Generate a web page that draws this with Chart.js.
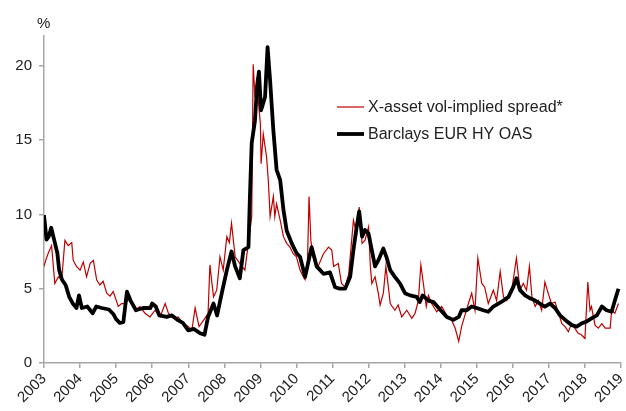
<!DOCTYPE html>
<html>
<head>
<meta charset="utf-8">
<script src="https://cdn.jsdelivr.net/npm/chart.js@4.4.1/dist/chart.umd.min.js"></script>
<style>
  html, body { margin: 0; padding: 0; background: #fff; }
  #wrap { width: 626px; height: 411px; }
</style>
</head>
<body>
<div id="wrap"><canvas id="spreadChart" width="626" height="411"></canvas></div>
<script>
// x-asset vol-implied spread (red, thin)
const impliedYears = [
  2003.00, 2003.06, 2003.12, 2003.21, 2003.30, 2003.40, 2003.49, 2003.58, 2003.67, 2003.77, 2003.81, 2003.90,
  2004.00, 2004.09, 2004.18, 2004.28, 2004.37, 2004.46, 2004.55, 2004.64, 2004.74, 2004.83, 2004.92,
  2005.06, 2005.15, 2005.25, 2005.38, 2005.52, 2005.66, 2005.80, 2005.94,
  2006.08, 2006.22, 2006.36, 2006.45, 2006.59, 2006.72, 2006.86,
  2007.00, 2007.10, 2007.19, 2007.30, 2007.46, 2007.55, 2007.60, 2007.70, 2007.79, 2007.88, 2007.97,
  2008.07, 2008.14, 2008.20, 2008.30, 2008.43, 2008.57, 2008.67, 2008.76, 2008.80, 2008.85, 2008.90, 2008.94,
  2009.00, 2009.02, 2009.08, 2009.17, 2009.22, 2009.27, 2009.36, 2009.40, 2009.45, 2009.55, 2009.64, 2009.73, 2009.82, 2009.91,
  2010.00, 2010.10, 2010.19, 2010.24, 2010.30, 2010.35, 2010.40, 2010.48, 2010.60, 2010.75, 2010.89, 2010.98,
  2011.03, 2011.16, 2011.25, 2011.35, 2011.45, 2011.58, 2011.67, 2011.74, 2011.82, 2011.90,
  2012.00, 2012.05, 2012.09, 2012.18, 2012.27, 2012.32, 2012.41, 2012.48, 2012.55, 2012.60, 2012.73, 2012.82, 2012.92,
  2013.06, 2013.20, 2013.29, 2013.38, 2013.45, 2013.52, 2013.60, 2013.66, 2013.75, 2013.89,
  2014.03, 2014.17, 2014.30, 2014.40, 2014.50, 2014.58, 2014.67, 2014.77, 2014.86, 2014.95,
  2015.03, 2015.14, 2015.22, 2015.32, 2015.46, 2015.55, 2015.65, 2015.74, 2015.83, 2015.97,
  2016.10, 2016.20, 2016.29, 2016.38, 2016.46, 2016.53, 2016.62, 2016.71, 2016.80, 2016.89, 2016.98,
  2017.07, 2017.17, 2017.27, 2017.36, 2017.45, 2017.54, 2017.63, 2017.72, 2017.81, 2017.90,
  2018.00, 2018.08, 2018.14, 2018.18, 2018.28, 2018.37, 2018.47, 2018.56, 2018.70, 2018.74, 2018.83, 2018.93
];
const impliedSpread = [
  6.5, 7.0, 7.4, 7.9, 5.35, 5.8, 5.6, 8.25, 7.9, 8.1, 6.9, 6.5,
  6.25, 6.8, 5.8, 6.7, 6.9, 5.6, 5.25, 5.5, 4.7, 4.5, 4.8,
  3.8, 4.0, 4.0, 4.35, 3.55, 3.8, 3.35, 3.1,
  3.55, 3.1, 4.0, 3.35, 3.0, 3.1, 2.65,
  2.45, 2.2, 3.7, 2.45, 3.0, 3.35, 6.6, 4.45, 4.9, 7.15, 6.25,
  8.5, 8.1, 9.4, 7.15, 6.7, 6.25, 8.1, 9.85, 20.1, 17.9, 19.2, 17.7,
  16.1, 13.4, 15.4, 13.9, 12.3, 9.85, 11.2, 9.85, 10.7, 9.6, 8.5, 8.05, 7.8, 7.35,
  7.15, 6.25, 5.8, 5.6, 6.25, 11.2, 8.25, 6.9, 6.5, 7.35, 7.8, 7.6,
  6.5, 6.7, 5.35, 5.1, 6.0, 9.6, 8.7, 10.5, 8.05, 8.25,
  9.15, 6.5, 5.35, 5.8, 4.7, 3.9, 4.7, 6.5, 5.1, 4.0, 3.55, 3.9, 3.1,
  3.55, 3.0, 3.35, 4.2, 6.6, 5.35, 3.8, 4.55, 4.0, 3.45,
  3.8, 3.2, 2.9, 2.35, 1.45, 2.45, 3.2, 4.0, 4.7, 3.55,
  7.05, 5.35, 5.1, 4.0, 4.9, 4.2, 6.15, 4.45, 4.2, 4.9,
  7.05, 4.9, 5.35, 4.9, 6.5, 4.45, 3.8, 4.2, 3.55, 5.45, 4.7,
  4.0, 4.1, 3.35, 2.65, 2.45, 2.1, 2.65, 2.35, 2.0, 1.9,
  1.65, 5.45, 3.55, 3.8, 2.55, 2.35, 2.65, 2.35, 2.35, 3.55, 3.35, 4.0
];

// Barclays EUR HY OAS (black, thick)
const oasYears = [
  2003.00, 2003.07, 2003.13, 2003.20, 2003.28, 2003.37, 2003.42, 2003.50, 2003.60, 2003.70, 2003.80, 2003.90, 2003.97,
  2004.05, 2004.20, 2004.35, 2004.45, 2004.60, 2004.80, 2004.92,
  2005.00, 2005.10, 2005.20, 2005.30, 2005.40, 2005.55, 2005.75, 2005.95,
  2006.00, 2006.10, 2006.20, 2006.40, 2006.55, 2006.70, 2006.85,
  2007.00, 2007.15, 2007.33, 2007.45, 2007.55, 2007.70, 2007.80, 2007.93,
  2008.07, 2008.20, 2008.30, 2008.43, 2008.53, 2008.67, 2008.71, 2008.76, 2008.85, 2008.90, 2008.96,
  2009.02, 2009.13, 2009.20, 2009.27, 2009.36, 2009.45, 2009.55, 2009.64, 2009.73, 2009.87,
  2010.00, 2010.10, 2010.24, 2010.42, 2010.56, 2010.75, 2010.93,
  2011.07, 2011.20, 2011.35, 2011.49, 2011.58, 2011.67, 2011.74, 2011.82, 2011.90,
  2012.00, 2012.09, 2012.18, 2012.27, 2012.41, 2012.50, 2012.60, 2012.73, 2012.87,
  2013.01, 2013.15, 2013.33, 2013.42, 2013.50, 2013.66, 2013.80,
  2014.00, 2014.17, 2014.35, 2014.50, 2014.58, 2014.72, 2014.86,
  2015.00, 2015.18, 2015.32, 2015.46, 2015.60, 2015.74, 2015.88,
  2016.01, 2016.10, 2016.20, 2016.34, 2016.48, 2016.62, 2016.75, 2016.89,
  2017.03, 2017.17, 2017.31, 2017.50, 2017.64, 2017.77, 2017.90,
  2018.05, 2018.18, 2018.33, 2018.47, 2018.60, 2018.74, 2018.83, 2018.93
];
const oasSpread = [
  9.95, 8.3, 8.5, 9.1, 8.3, 7.4, 6.25, 5.6, 5.25, 4.45, 4.0, 3.7, 4.55,
  3.7, 3.8, 3.35, 3.8, 3.7, 3.6, 3.3,
  2.95, 2.7, 2.75, 4.8, 4.2, 3.55, 3.7, 3.7,
  4.0, 3.8, 3.2, 3.1, 3.2, 2.9, 2.7,
  2.2, 2.3, 2.0, 1.9, 3.1, 4.0, 3.2, 4.7,
  6.25, 7.5, 6.5, 5.7, 7.6, 7.8, 11.2, 14.8, 16.3, 18.35, 19.6,
  17.0, 17.9, 21.25, 19.0, 15.65, 13.0, 12.3, 10.3, 8.9, 8.05,
  7.4, 7.15, 5.8, 7.8, 6.5, 6.0, 6.1,
  5.1, 5.0, 5.0, 5.8, 7.6, 9.15, 10.2, 8.5, 8.95,
  8.7, 7.6, 6.5, 6.9, 7.7, 7.1, 6.25, 5.8, 5.35,
  4.7, 4.55, 4.45, 4.1, 4.55, 4.2, 4.1,
  3.55, 3.1, 2.9, 3.1, 3.55, 3.55, 3.8,
  3.7, 3.55, 3.45, 3.8, 4.0, 4.2, 4.45,
  5.1, 5.7, 4.9, 4.55, 4.35, 4.2, 4.0, 3.8,
  4.0, 3.7, 3.2, 2.8, 2.55, 2.45, 2.65,
  2.8, 3.0, 3.2, 3.8, 3.55, 3.45, 4.2, 5.0
];

const yTicks = [0, 5, 10, 15, 20];
const seriesLabels = ['X-asset vol-implied spread*', 'Barclays EUR HY OAS'];

const toPoints = (xs, ys) => xs.map((x, i) => ({ x, y: ys[i] }));

const axisGrey = '#a6a6a6';
const textColor = '#222';
const fontFamily = "Arial, 'Liberation Sans', sans-serif";

// legend and "%" drawn inside the plot
const insideLegend = {
    id: 'insideLegend',
    afterDraw(chart) {
        const ctx = chart.ctx;
        ctx.save();
        ctx.font = '15px ' + fontFamily;
        ctx.fillStyle = textColor;
        ctx.textAlign = 'left';
        ctx.textBaseline = 'alphabetic';
        ctx.fillText('%', 37, 28);

        ctx.font = '16px ' + fontFamily;
        ctx.textBaseline = 'middle';
        const rows = [chart.data.datasets[0], chart.data.datasets[1]];
        rows.forEach((ds, i) => {
            const y = 107 + i * 27;
            ctx.strokeStyle = ds.borderColor;
            ctx.lineWidth = ds.borderWidth;
            ctx.beginPath();
            ctx.moveTo(337, y);
            ctx.lineTo(364, y);
            ctx.stroke();
            ctx.fillStyle = textColor;
            ctx.fillText(ds.label, 368, y + 1);
        });
        ctx.restore();
    },
};

new Chart(document.getElementById('spreadChart'), {
    type: 'line',
    data: {
        datasets: [
            {
                label: seriesLabels[0],
                data: toPoints(impliedYears, impliedSpread),
                borderColor: '#c00000',
                borderWidth: 1.2,
                pointRadius: 0,
                tension: 0,
                order: 1,
            },
            {
                label: seriesLabels[1],
                data: toPoints(oasYears, oasSpread),
                borderColor: '#000000',
                borderWidth: 3.8,
                borderJoinStyle: 'round',
                pointRadius: 0,
                tension: 0,
                order: 0,
            },
        ],
    },
    options: {
        responsive: false,
        animation: false,
        layout: { padding: { top: 36, right: 5, left: 0, bottom: 0 } },
        plugins: {
            legend: { display: false },
            tooltip: { enabled: false },
        },
        scales: {
            x: {
                type: 'linear',
                min: 2003,
                max: 2019,
                afterFit: (scale) => {
                    scale.height = 48;
                    scale.paddingLeft = 0;
                    scale.paddingRight = 0;
                },
                border: { color: axisGrey, width: 1.5 },
                grid: { drawOnChartArea: false, color: axisGrey, tickLength: 5, lineWidth: 1.5 },
                ticks: {
                    stepSize: 1,
                    autoSkip: false,
                    minRotation: 45,
                    maxRotation: 45,
                    padding: 2,
                    color: textColor,
                    font: { family: fontFamily, size: 15 },
                    callback: (v) => String(v),
                },
            },
            y: {
                min: 0,
                max: 22,
                afterFit: (scale) => {
                    scale.width = 44;
                    scale.paddingTop = 0;
                    scale.paddingBottom = 0;
                },
                afterBuildTicks: (scale) => { scale.ticks = yTicks.map((v) => ({ value: v })); },
                border: { color: axisGrey, width: 1.5 },
                grid: { drawOnChartArea: false, color: axisGrey, tickLength: 5, lineWidth: 1.5 },
                ticks: {
                    padding: 7,
                    color: textColor,
                    font: { family: fontFamily, size: 15 },
                },
            },
        },
    },
    plugins: [insideLegend],
});
</script>
</body>
</html>
